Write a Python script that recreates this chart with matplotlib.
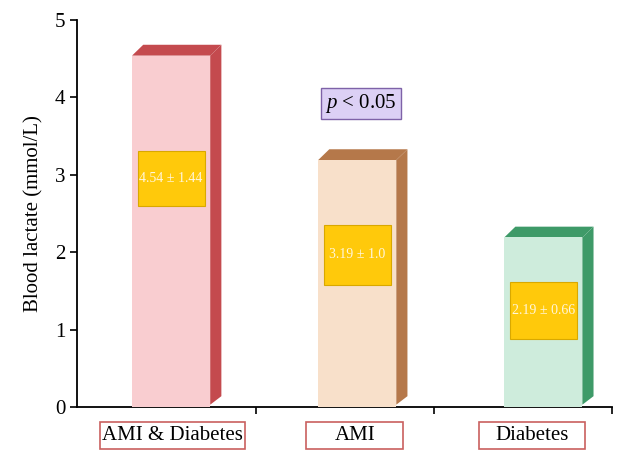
import numpy as np
import matplotlib.pyplot as plt
from matplotlib.patches import Polygon, Rectangle

plt.rcParams['font.family'] = ['Liberation Serif', 'DejaVu Serif']
plt.rcParams['mathtext.fontset'] = 'custom'
plt.rcParams['mathtext.it'] = 'Liberation Serif:italic'
plt.rcParams['mathtext.rm'] = 'Liberation Serif'

groups = ['AMI & Diabetes', 'AMI', 'Diabetes']
means = [4.54, 3.19, 2.19]
labels = ['4.54 ± 1.44', '3.19 ± 1.0', '2.19 ± 0.66']
# yellow label boxes (bottom, top) in mmol/L
box_lo = [2.60, 1.58, 0.88]
box_hi = [3.31, 2.35, 1.62]

front_cols = ['#f9cdd0', '#f8e0ca', '#ceecdc']
side_cols = ['#c44a4e', '#b5784a', '#3e9a68']

fig = plt.figure(figsize=(6.43, 4.65), dpi=100)
ax = fig.add_axes([0.12, 0.1247, 0.832, 0.8323])

x = np.arange(len(groups))
w = 0.42
dx, dy = 0.06, 0.14

for i in range(len(groups)):
    l, r, h = x[i] - w / 2, x[i] + w / 2, means[i]
    # side face
    ax.add_patch(Polygon([[r, 0.03], [r + dx, dy], [r + dx, h + dy], [r, h]],
                         closed=True, fc=side_cols[i], ec='none', zorder=2))
    # top face
    ax.add_patch(Polygon([[l, h], [l + dx, h + dy], [r + dx, h + dy], [r, h]],
                         closed=True, fc=side_cols[i], ec='none', zorder=2))
ax.bar(x, means, width=w, color=front_cols, edgecolor='none', zorder=3)

for i in range(len(groups)):
    bw = w * 0.86
    ax.add_patch(Rectangle((x[i] - bw / 2, box_lo[i]), bw, box_hi[i] - box_lo[i],
                           fc='#ffc90b', ec='#d9a800', lw=0.8, zorder=4))
    ax.text(x[i], (box_lo[i] + box_hi[i]) / 2, labels[i], ha='center', va='center',
            color='#fff6dc', fontsize=10, zorder=5)

ax.text(1.02, 3.92, r'$p$ < 0.05', ha='center', va='center', fontsize=15,
        bbox=dict(boxstyle='square,pad=0.2', fc='#dcd0f5', ec='#7e62a8', lw=1))

ax.set_xlim(-0.505, 2.37)
ax.set_ylim(0, 5)
ax.set_yticks([0, 1, 2, 3, 4, 5])
ax.tick_params(axis='y', labelsize=15, length=5, width=1.2, direction='out')
ax.set_xticks([0.457, 1.414, 2.37])
ax.set_xticklabels([])
ax.tick_params(axis='x', length=5, width=1.2, direction='out')
ax.set_ylabel('Blood lactate (mmol/L)', fontsize=15, labelpad=8)

for s in ['top', 'right']:
    ax.spines[s].set_visible(False)
for s in ['left', 'bottom']:
    ax.spines[s].set_linewidth(1.3)

# category label boxes below the axis
lab_l = [-0.382, 0.726, 1.656]
lab_r = [0.398, 1.247, 2.226]
for i in range(len(groups)):
    ax.add_patch(Rectangle((lab_l[i], -0.543), lab_r[i] - lab_l[i], 0.349,
                           fc='white', ec='#c9605f', lw=1.2, clip_on=False))
    ax.text((lab_l[i] + lab_r[i]) / 2, -0.37, groups[i], ha='center', va='center',
            fontsize=15, clip_on=False)

fig.savefig('out.png', dpi=100)
